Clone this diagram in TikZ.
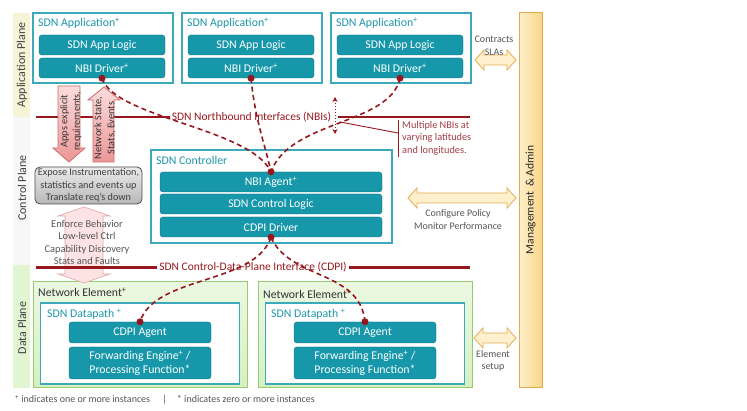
\documentclass[tikz,border=0pt]{standalone}
\usepackage{fontspec}
\setmainfont{Carlito}
\usetikzlibrary{arrows.meta}
\definecolor{teal1}{RGB}{22,152,170}
\definecolor{tealdk}{RGB}{14,112,126}
\definecolor{tealbd}{RGB}{60,170,186}
\definecolor{tealtx}{RGB}{30,150,170}
\definecolor{dred}{RGB}{150,24,30}
\definecolor{calltx}{RGB}{165,60,70}
\definecolor{graytx}{RGB}{85,85,85}
\definecolor{pinklt}{RGB}{252,220,220}
\definecolor{pinkdk}{RGB}{236,150,150}
\definecolor{pinkbd}{RGB}{205,105,105}
\definecolor{yellt}{RGB}{254,240,205}
\definecolor{yeldk}{RGB}{250,212,135}
\definecolor{yelbd}{RGB}{228,172,80}
\definecolor{greenlt}{RGB}{236,248,226}
\definecolor{greendk}{RGB}{214,240,192}
\definecolor{greenbd}{RGB}{150,202,115}
\definecolor{appband}{RGB}{246,243,215}
\begin{document}
\begin{tikzpicture}[x=1pt,y=-1pt,
  outerbox/.style={draw=tealbd, line width=1.2pt, fill=white, inner sep=0pt},
  tealbox/.style={draw=tealdk, fill=teal1, rounded corners=3pt, text=white, inner sep=0pt,
     font=\fontsize{11.8}{13}\selectfont, align=center},
  boxtitle/.style={anchor=west, text=tealtx, inner sep=0pt, font=\fontsize{11.8}{13}\selectfont},
  netitle/.style={anchor=west, text=black!80, inner sep=0pt, font=\fontsize{11.8}{13}\selectfont},
  nebox/.style={draw=greenbd, line width=1pt, top color=greenlt, bottom color=greendk, inner sep=0pt},
  dot/.style={circle, fill=dred, inner sep=0pt, minimum size=7pt},
  iface/.style={draw=dred, line width=2.6pt},
  ifacetx/.style={text=dred, inner sep=2pt, font=\fontsize{11.5}{13}\selectfont},
  conn/.style={draw=dred, line width=1.6pt, dash pattern=on 5pt off 3.5pt},
  pinkarrow/.style={draw=pinkbd, line width=0.8pt, top color=pinklt, bottom color=pinkdk},
  yelarrow/.style={draw=yelbd, line width=0.8pt, fill=yellt},
  sidetx/.style={text=graytx, align=center, inner sep=0pt, font=\fontsize{10}{12.5}\selectfont},
  planetx/.style={rotate=90, text=black!75, inner sep=0pt, font=\fontsize{12}{13}\selectfont}
]
\useasboundingbox (0,0) rectangle (747,411);
% plane bands
\fill[appband] (13,13) rectangle (30,117);
\fill[black!3] (13,117) rectangle (30,265);
\fill[greendk!70!white] (13,265) rectangle (30,388);
\node[planetx] (pApp) at (22,65) {Application Plane};
\node[planetx] (pCtl) at (22,188) {Control Plane};
\node[planetx] (pDat) at (22,328) {Data Plane};

% management bar
\node[draw=yelbd, line width=1pt, left color=yellt, right color=yeldk, minimum width=23pt,
  minimum height=375pt, inner sep=0pt] (mgmt) at (530.5,200.5) {};
\node[rotate=90, font=\fontsize{11.5}{13}\selectfont, text=black!85] (mgmttx) at (530.5,200) {Management \,\& Admin};

% applications
\foreach \i/\cx in {1/103, 2/252, 3/401} {
  \node[outerbox, minimum width=140pt, minimum height=70pt] (app\i) at (\cx,48) {};
  \node[boxtitle] (apptitle\i) at (\cx-65,23.5) {SDN Application\textsuperscript{+}};
  \node[tealbox, minimum width=126pt, minimum height=20pt] (logic\i) at (\cx-1,45) {SDN App Logic};
  \node[tealbox, minimum width=126pt, minimum height=20pt] (drv\i) at (\cx-1,68) {NBI Driver\textsuperscript{+}};
}

% controller
\node[outerbox, minimum width=241pt, minimum height=93pt] (ctrl) at (271.5,196.5) {};
\node[boxtitle] (ctrltitle) at (156,160) {SDN Controller};
\node[tealbox, minimum width=222pt, minimum height=20pt] (agent) at (271,182) {NBI Agent\textsuperscript{+}};
\node[tealbox, minimum width=222pt, minimum height=20pt] (clogic) at (271,204) {SDN Control Logic};
\node[tealbox, minimum width=222pt, minimum height=20pt] (cdrv) at (271,227) {CDPI Driver};

% network elements
\foreach \s/\cx in {L/140, R/365} {
  \node[nebox, minimum width=214pt, minimum height=106pt] (ne\s) at (\cx,335) {};
  \node[outerbox, minimum width=199pt, minimum height=81pt] (dp\s) at (\cx,343.5) {};
  \node[tealbox, minimum width=142pt, minimum height=21pt] (ca\s) at (\cx,332.5) {CDPI Agent};
  \node[tealbox, minimum width=142pt, minimum height=32pt, font=\fontsize{11.8}{14}\selectfont] (fe\s) at (\cx,363)
     {Forwarding Engine\textsuperscript{+} /\\Processing Function*};
}
\node[netitle] (neLt) at (38,292.5) {Network Element\textsuperscript{+}};
\node[netitle] (neRt) at (263,294) {Network Element\textsuperscript{+}};
\node[boxtitle] (dpLt) at (47,314) {SDN Datapath \textsuperscript{+}};
\node[boxtitle] (dpRt) at (271,314) {SDN Datapath \textsuperscript{+}};

% NBI interface line
\coordinate (nbiL) at (36,117);
\coordinate (nbiR) at (470,117);
\node[ifacetx] (nbi) at (251.5,117) {SDN Northbound Interfaces (NBIs)};
\draw[iface] (nbiL) -- (nbi.west);
\draw[iface] (nbi.east) ++(5,0) -- (nbiR);
% CDPI interface line
\coordinate (cdpiL) at (36,267.5);
\coordinate (cdpiR) at (470,267.5);
\node[ifacetx] (cdpi) at (253,267.5) {SDN Control-Data-Plane Interface (CDPI)};
\draw[iface] (cdpi.east) -- (cdpiR);

% dotted double arrow
\coordinate (vaT) at (335,97);
\coordinate (vaB) at (335,134);
\draw[dred, line width=1pt, dotted, {Stealth[length=5pt,width=5pt]}-{Stealth[length=5pt,width=5pt]}] (vaT) -- (vaB);

% callout
\coordinate (calA) at (340,122);
\coordinate (calB) at (398,133);
\coordinate (calT) at (398,120);
\coordinate (calD) at (398,157);
\draw[dred, line width=0.9pt] (calA) -- (calB);
\draw[dred, line width=0.9pt] (calT) -- (calD);
\node[anchor=north west, text=calltx, align=left, inner sep=0pt, font=\fontsize{10.3}{12.5}\selectfont] (caltx) at (402,121)
  {Multiple NBIs at\\varying latitudes\\and longitudes.};

% pink arrows
\draw[pinkarrow] (58,86) -- (80,86) -- (80,148) -- (85,148) -- (69,162) -- (53,148) -- (58,148) -- cycle;
\node[rotate=90, align=center, inner sep=0pt, font=\fontsize{10.3}{12.5}\selectfont, text=black!80] (appsreq) at (71,121) {Apps explicit\\requirements,};
\draw[pinkarrow] (104,87) -- (120,100) -- (114,100) -- (114,162) -- (93,162) -- (93,100) -- (88,100) -- cycle;
\node[rotate=90, align=center, inner sep=0pt, font=\fontsize{10.3}{13}\selectfont, text=black!80] (netstate) at (105,128) {Network State,\\Stats, Events};

% gray box
\node[draw=black!70, line width=0.8pt, top color=black!8, bottom color=black!28, rounded corners=5pt,
  minimum width=107pt, minimum height=37pt, inner sep=0pt, align=center, text=black!75,
  font=\fontsize{10.2}{12.3}\selectfont] (expose) at (88.5,185.5)
  {Expose Instrumentation,\\statistics and events up\\Translate req’s down};

% pink double arrow
\fill[pinklt!80!white, draw=pinkbd!60, line width=0.6pt] (84,207) -- (110,216) -- (103,216) -- (103,274) -- (110,274) -- (84,283) -- (58,274) -- (65,274) -- (65,216) -- (58,216) -- cycle;
\node[align=center, inner sep=0pt, text=graytx, font=\fontsize{10.4}{12.4}\selectfont] (enforce) at (87,242.5)
  {Enforce Behavior\\Low-level Ctrl\\Capability Discovery\\Stats and Faults};
\draw[iface] (cdpiL) -- (cdpi.west);

% dashed connectors
\draw[conn] (drv1.south) .. controls (115,118) and (250,128) .. (agent.north);
\draw[conn] (drv2.south) .. controls (255,120) and (266,148) .. (agent.north);
\draw[conn] (drv3.south) .. controls (390,125) and (290,120) .. (agent.north);
\draw[conn] (cdrv.south) .. controls (255,285) and (155,275) .. (caL.north);
\draw[conn] (cdrv.south) .. controls (290,280) and (360,270) .. (caR.north);
\foreach \n in {drv1.south, drv2.south, drv3.south, agent.north, cdrv.south, caL.north, caR.north}
  \node[dot] at (\n) {};

% yellow arrows
\draw[yelarrow] (475,60) -- (484,50) -- (484,55) -- (507,55) -- (507,50) -- (516,60) -- (507,70) -- (507,65) -- (484,65) -- (484,70) -- cycle;
\node[sidetx] (contracts) at (494,46) {Contracts\\SLAs};
\draw[yelarrow] (408,198) -- (417,188) -- (417,193) -- (507,193) -- (507,188) -- (516,198) -- (507,208) -- (507,203) -- (417,203) -- (417,208) -- cycle;
\node[sidetx] (configure) at (458,219.5) {Configure Policy\\Monitor Performance};
\draw[yelarrow] (474,338) -- (483,328) -- (483,333) -- (507,333) -- (507,328) -- (516,338) -- (507,348) -- (507,343) -- (483,343) -- (483,348) -- cycle;
\node[sidetx] (element) at (493,361) {Element\\setup};

% footnote
\node[anchor=west, inner sep=0pt, text=graytx, font=\fontsize{10}{11}\selectfont] (foot) at (15,400)
  {\textsuperscript{+} indicates one or more instances \quad|\quad * indicates zero or more instances};
\end{tikzpicture}
\end{document}
